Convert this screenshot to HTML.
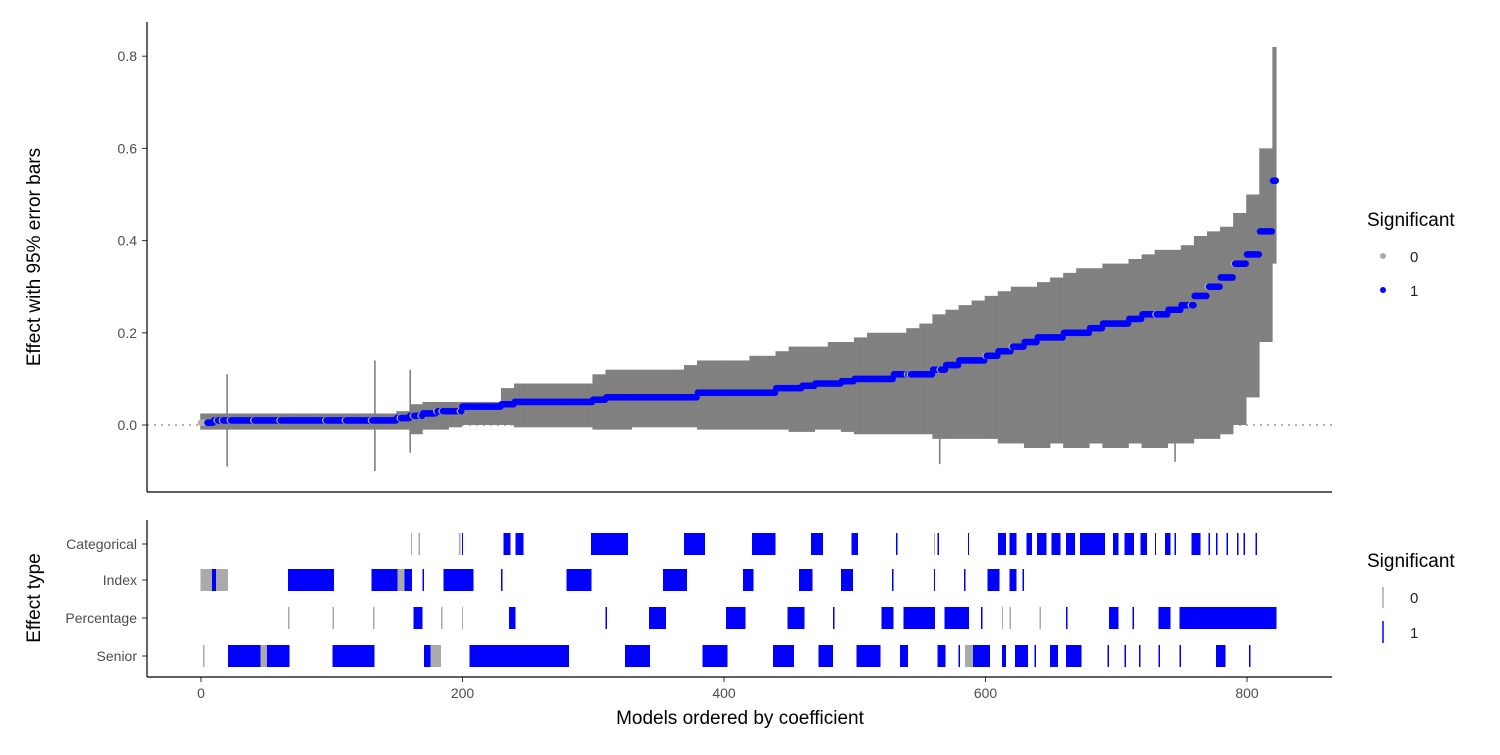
<!DOCTYPE html>
<html><head><meta charset="utf-8"><style>
body{margin:0;background:#fff;font-family:"Liberation Sans",Arial,sans-serif}
svg text{font-family:"Liberation Sans",Arial,sans-serif}
</style></head><body>
<svg id="c" width="1500" height="750" viewBox="0 0 1500 750">
<rect width="1500" height="750" fill="#fff"/>
<g id="topPanel"></g>
<g id="botPanel"></g>
<g>
<line x1="147" y1="22" x2="147" y2="492" stroke="#000" stroke-width="1.2"/>
<line x1="147" y1="492" x2="1332" y2="492" stroke="#000" stroke-width="1.2"/>
<line x1="147" y1="520" x2="147" y2="677" stroke="#000" stroke-width="1.2"/>
<line x1="147" y1="677" x2="1332" y2="677" stroke="#000" stroke-width="1.2"/>
</g>
<text x="40" y="257" transform="rotate(-90 40 257)" text-anchor="middle" font-size="19">Effect with 95% error bars</text>
<text x="40" y="598" transform="rotate(-90 40 598)" text-anchor="middle" font-size="19">Effect type</text>
<text x="740" y="724" text-anchor="middle" font-size="19">Models ordered by coefficient</text>
<g>
<text x="1367" y="226" font-size="19">Significant</text>
<circle cx="1383" cy="256" r="3" fill="#aaaaaa"/><text x="1410" y="262" font-size="15" fill="#222">0</text>
<circle cx="1383" cy="290" r="3" fill="#0000ff"/><text x="1410" y="296" font-size="15" fill="#222">1</text>
</g>
<g>
<text x="1367" y="567" font-size="19">Significant</text>
<line x1="1383" y1="587" x2="1383" y2="608" stroke="#aaaaaa" stroke-width="1.5"/><text x="1410" y="603" font-size="15" fill="#222">0</text>
<line x1="1383" y1="621" x2="1383" y2="643" stroke="#0000ff" stroke-width="1.5"/><text x="1410" y="638" font-size="15" fill="#222">1</text>
</g>
</svg>
<script>
const est=[0.005,0.01,0.01,0.01,0.01,0.01,0.01,0.01,0.01,0.01,0.01,0.01,0.01,0.01,0.01,0.015,0.02,0.025,0.03,0.03,
0.04,0.04,0.04,0.045,0.05,0.05,0.05,0.05,0.05,0.05,0.055,0.06,0.06,0.06,0.06,0.06,0.06,0.06,0.07,0.07,
0.07,0.07,0.07,0.07,0.08,0.08,0.085,0.09,0.09,0.095,0.10,0.10,0.10,0.11,0.11,0.11,0.12,0.13,0.14,0.14,
0.15,0.16,0.17,0.18,0.19,0.19,0.20,0.20,0.21,0.22,0.22,0.23,0.24,0.24,0.25,0.26,0.28,0.30,0.32,0.35,
0.37,0.42,0.53];
const upper=[0.025,0.025,0.025,0.025,0.025,0.025,0.025,0.025,0.025,0.025,0.025,0.025,0.025,0.025,0.025,0.03,0.045,0.05,0.05,0.05,
0.05,0.05,0.05,0.08,0.09,0.09,0.09,0.09,0.09,0.09,0.11,0.12,0.12,0.12,0.12,0.12,0.12,0.13,0.14,0.14,
0.14,0.14,0.15,0.15,0.16,0.17,0.17,0.17,0.18,0.18,0.19,0.2,0.2,0.2,0.21,0.22,0.24,0.25,0.26,0.27,
0.28,0.29,0.3,0.3,0.31,0.32,0.33,0.34,0.34,0.35,0.35,0.36,0.37,0.38,0.38,0.39,0.41,0.42,0.43,0.46,
0.5,0.6,0.82];
const lower=[-0.01,-0.01,-0.01,-0.01,-0.01,-0.01,-0.01,-0.01,-0.01,-0.01,-0.01,-0.01,-0.01,-0.01,-0.01,-0.01,-0.02,-0.01,-0.01,-0.005,
0.0,0.0,0.0,0.0,-0.005,-0.005,-0.005,-0.005,-0.005,-0.005,-0.01,-0.01,-0.01,-0.005,-0.005,-0.005,-0.005,-0.005,-0.01,-0.01,
-0.01,-0.01,-0.01,-0.01,-0.01,-0.015,-0.015,-0.01,-0.01,-0.015,-0.02,-0.02,-0.02,-0.02,-0.02,-0.02,-0.03,-0.03,-0.03,-0.03,
-0.03,-0.04,-0.04,-0.05,-0.05,-0.04,-0.05,-0.05,-0.04,-0.05,-0.05,-0.04,-0.05,-0.05,-0.04,-0.04,-0.03,-0.03,-0.02,0.0,
0.06,0.18,0.35];
const spikes=[[20,-0.09,0.11],[133,-0.1,0.14],[160,-0.06,0.12],[565,-0.085,0.17],[745,-0.08,0.2]];
const insig=[0,1,2,3,4,12,16,22,40,60,95,110,130,152,162,168,180,184,198,540,542,565,600,620,730,757,770,790];
const nModels=823;
const xTicks=[0,200,400,600,800];
const yTicks=[0.0,0.2,0.4,0.6,0.8];
const rowNames=["Categorical","Index","Percentage","Senior"];
const catRanges=[[161,161,0],[167,167,0],[198,198,0],[200,200,1],[232,236,1],[241,246,1],[299,326,1],[370,385,1],[422,439,1],[467,475,1],[498,502,1],[532,532,1],[561,561,0],[564,564,1],[587,587,1],[610,615,1],[619,623,1],[632,635,1],[640,646,1],[651,657,1],[662,668,1],[673,691,1],[698,701,1],[707,713,1],[719,723,1],[730,730,1],[738,741,1],[745,745,1],[758,764,1],[771,771,1],[777,777,1],[785,785,1],[793,793,1],[798,798,1],[807,807,1]];
const idxRanges=[[0,8,0],[9,11,1],[12,20,0],[67,101,1],[131,150,1],[151,155,0],[156,161,1],[170,170,1],[186,208,1],[230,230,1],[280,298,1],[354,371,1],[415,422,1],[458,467,1],[490,498,1],[529,529,1],[561,561,1],[584,584,1],[602,610,1],[619,623,1],[629,629,1]];
const pctRanges=[[67,67,0],[101,101,0],[132,132,0],[163,169,1],[184,184,0],[200,200,0],[236,240,1],[310,310,1],[343,355,1],[402,416,1],[449,461,1],[484,484,1],[521,529,1],[538,561,1],[569,587,1],[597,597,1],[613,613,0],[619,619,0],[642,642,0],[662,662,1],[695,701,1],[713,713,1],[733,741,1],[749,822,1]];
const senRanges=[[2,2,0],[21,45,1],[46,50,0],[51,67,1],[101,132,1],[171,175,1],[176,183,0],[206,281,1],[325,343,1],[384,402,1],[438,453,1],[473,483,1],[502,519,1],[535,540,1],[564,569,1],[580,580,1],[585,590,0],[591,603,1],[613,615,1],[623,632,1],[638,638,1],[650,655,1],[662,673,1],[694,694,1],[707,707,1],[718,718,1],[733,733,1],[749,749,1],[777,783,1],[802,802,1]];
const rows=[catRanges,idxRanges,pctRanges,senRanges];

const NS="http://www.w3.org/2000/svg";
const X=m=>201+m*1.3075;
const Y=v=>425-v*461;
const rowY=[544,580,618,656];
function mk(tag,attrs,parent){const e=document.createElementNS(NS,tag);for(const k in attrs)e.setAttribute(k,attrs[k]);parent.appendChild(e);return e;}
const topG=document.getElementById('topPanel'),botG=document.getElementById('botPanel');
const zl=mk('line',{x1:147,x2:1332,y1:Y(0),y2:Y(0),stroke:'#999','stroke-width':1.5,'stroke-dasharray':'2 5'},topG);


for(let m=0;m<nModels;m++){const b=Math.min(Math.floor(m/10),est.length-1);
 const l=mk('line',{x1:X(m),x2:X(m),y1:Y(lower[b]),y2:Y(upper[b]),stroke:'#808080','stroke-width':1.6},topG);
 
 }
spikes.forEach(s=>{const l=mk('line',{x1:X(s[0]),x2:X(s[0]),y1:Y(s[1]),y2:Y(s[2]),stroke:'#808080','stroke-width':1.6},topG);
 
 });
for(let m=0;m<nModels;m++){const b=Math.min(Math.floor(m/10),est.length-1);
 const c=mk('circle',{cx:X(m),cy:Y(est[b]),r:3.3,fill:insig.includes(m)?'#b0b0b0':'#0000ff'},topG);
 
 }
yTicks.forEach(t=>{mk('line',{x1:142,x2:147,y1:Y(t),y2:Y(t),stroke:'#333'},topG);
 const tx=mk('text',{x:137,y:Y(t)+5,'text-anchor':'end','font-size':14,fill:'#4d4d4d'},topG);tx.textContent=t.toFixed(1);
 
 });
rows.forEach((rg,ri)=>{const y=rowY[ri];
 rg.forEach(r=>{for(let m=r[0];m<=r[1];m++){const l=mk('line',{x1:X(m),x2:X(m),y1:y-11,y2:y+11,stroke:r[2]?'#0000ff':'#aaaaaa','stroke-width':1.4,'shape-rendering':'crispEdges'},botG);
  
  }});
 mk('line',{x1:142,x2:147,y1:y,y2:y,stroke:'#333'},botG);
 const tx=mk('text',{x:137,y:y+5,'text-anchor':'end','font-size':14,fill:'#4d4d4d'},botG);tx.textContent=rowNames[ri];
 
 });
xTicks.forEach(t=>{mk('line',{x1:X(t),x2:X(t),y1:677,y2:682,stroke:'#333'},botG);
 const tx=mk('text',{x:X(t),y:698,'text-anchor':'middle','font-size':14,fill:'#4d4d4d'},botG);tx.textContent=t;
 
 });
</script>
</body></html>
